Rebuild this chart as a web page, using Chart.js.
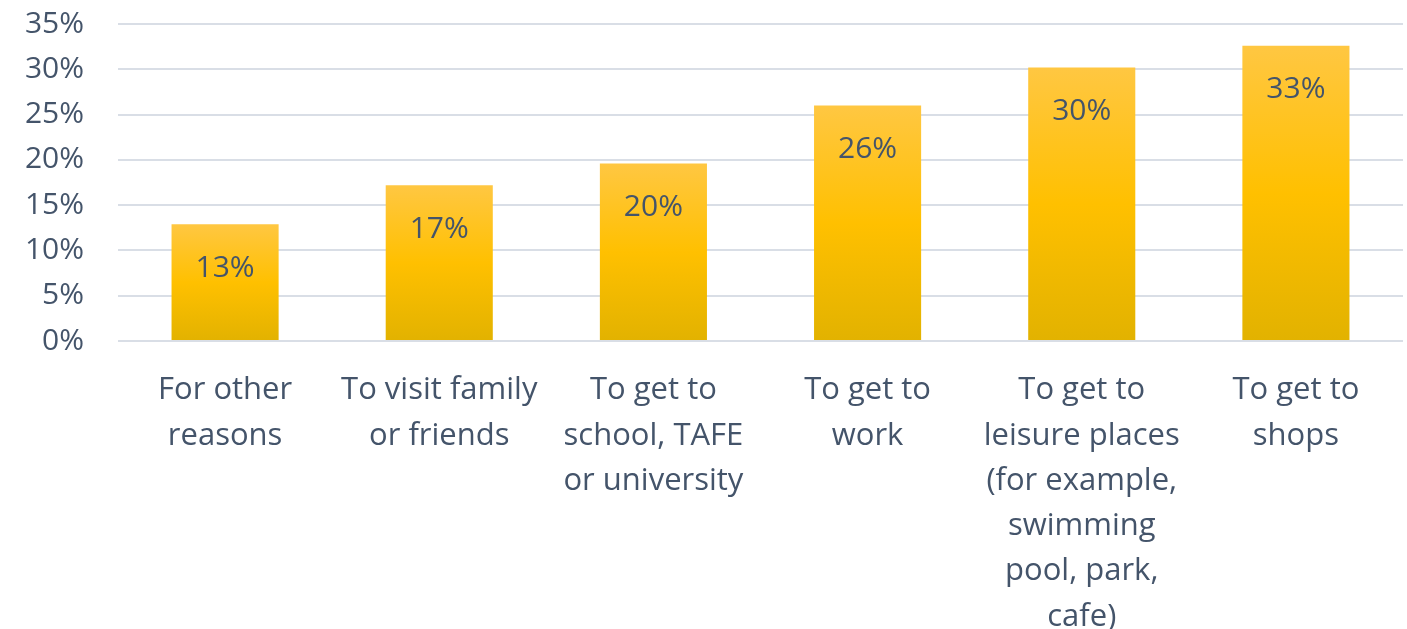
<!DOCTYPE html>
<html>
<head>
<meta charset="utf-8">
<script src="https://cdn.jsdelivr.net/npm/chart.js@4"></script>
<style>
  html, body { margin: 0; padding: 0; background: #fff; }
  #wrap { width: 1407px; height: 629px; }
</style>
</head>
<body>
<div id="wrap"><canvas id="bar-chart"></canvas></div>
<script>
// categories (multi-line labels as in the original)
const categories = [
  ["For other", "reasons"],
  ["To visit family", "or friends"],
  ["To get to", "school, TAFE", "or university"],
  ["To get to", "work"],
  ["To get to", "leisure places", "(for example,", "swimming", "pool, park,", "cafe)"],
  ["To get to", "shops"]
];
// share of respondents, percent
const values = [12.9, 17.2, 19.6, 26.0, 30.2, 32.6];
const valueLabels = ["13%", "17%", "20%", "26%", "30%", "33%"];

const textColor = "#44546A";
const fontFamily = "'Open Sans', Lato, sans-serif";

// gold gradient, lighter on top, darker at the base of each bar
function barGradient(ctx) {
  const chart = ctx.chart;
  const y = chart.scales.y;
  if (!chart.chartArea || !y || ctx.dataIndex === undefined) return "#FFC000";
  const top = y.getPixelForValue(values[ctx.dataIndex]);
  const base = y.getPixelForValue(0);
  const g = chart.ctx.createLinearGradient(0, top, 0, base);
  g.addColorStop(0, "#FFC742");
  g.addColorStop(0.5, "#FFC000");
  g.addColorStop(1, "#E2B200");
  return g;
}

// draws the value labels inside the bars, near the top
const insideLabels = {
  id: "insideLabels",
  afterDatasetsDraw(chart) {
    const c = chart.ctx;
    const meta = chart.getDatasetMeta(0);
    c.save();
    c.font = "30px " + fontFamily;
    c.fillStyle = textColor;
    c.textAlign = "center";
    c.textBaseline = "middle";
    meta.data.forEach((bar, i) => {
      c.fillText(valueLabels[i], bar.x, bar.y + 44);
    });
    c.restore();
  }
};

const info = {
  labels: categories,
  datasets: [{
    data: values,
    backgroundColor: barGradient,
    borderWidth: 0,
    categoryPercentage: 1,
    barPercentage: 0.5
  }]
};

const options = {
  responsive: true,
  maintainAspectRatio: false,
  animation: false,
  layout: { padding: { left: 0, right: 4, top: 24, bottom: 0 } },
  scales: {
    y: {
      min: 0,
      max: 35,
      afterFit: (scale) => { scale.width = 118; },
      ticks: {
        stepSize: 5,
        color: textColor,
        padding: 0,
        font: { size: 30, family: fontFamily },
        callback: (v) => v + "%"
      },
      grid: { color: "#D9DEE6", lineWidth: 2, drawTicks: true, tickLength: 34, tickColor: "rgba(0,0,0,0)" },
      border: { display: false }
    },
    x: {
      afterFit: (scale) => { scale.height = 288; },
      ticks: {
        color: textColor,
        padding: 19,
        maxRotation: 0,
        autoSkip: false,
        font: { size: 31, family: fontFamily, lineHeight: 1.46 }
      },
      grid: { display: false },
      border: { display: false }
    }
  },
  plugins: {
    legend: { display: false },
    tooltip: { enabled: false }
  }
};

new Chart(document.getElementById("bar-chart"), {
  type: "bar",
  data: info,
  options,
  plugins: [insideLabels]
});
</script>
</body>
</html>
